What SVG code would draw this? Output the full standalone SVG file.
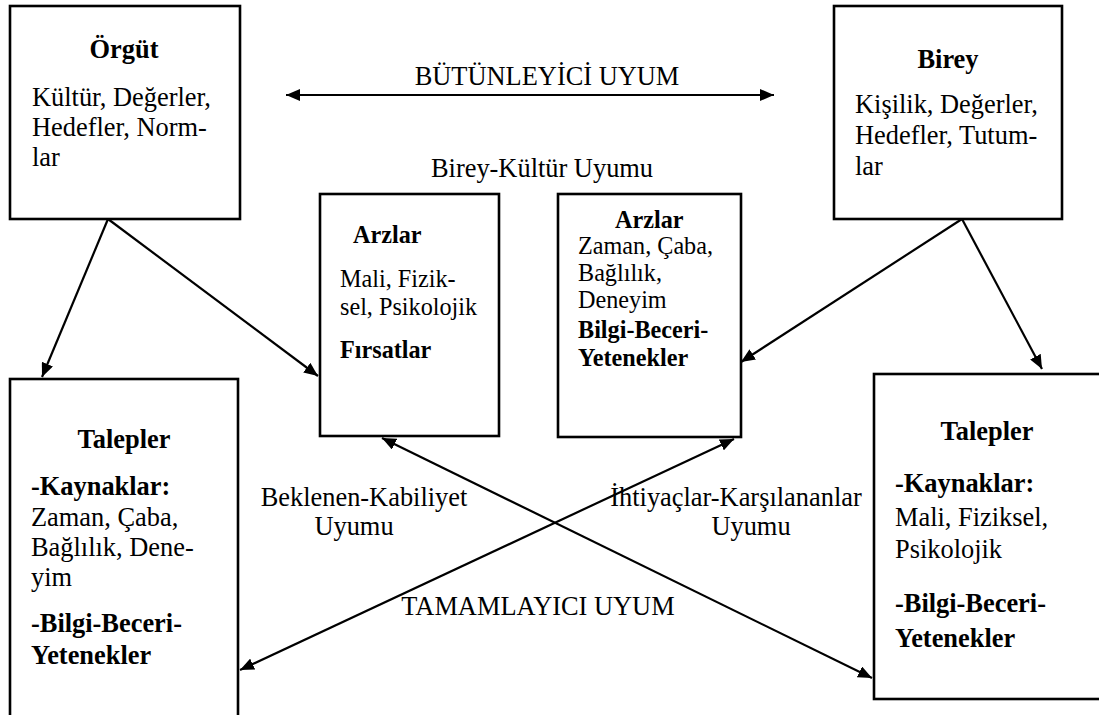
<svg xmlns="http://www.w3.org/2000/svg" width="1099" height="715" viewBox="0 0 1099 715">
<style>
  .t { font-family: 'Liberation Serif', 'DejaVu Serif', serif; font-size: 26.4px; fill: #000; }
  .s { font-family: 'Liberation Serif', 'DejaVu Serif', serif; font-size: 24.2px; fill: #000; }
  .b { font-weight: bold; }
  .box { fill: #fff; stroke: #000; stroke-width: 2.6; }
  .conn { stroke: #000; stroke-width: 2.2; fill: none; }
  .c { text-anchor: middle; }
</style>
<defs>
  <marker id="ah" viewBox="0 0 14 12" refX="14" refY="6" markerWidth="14" markerHeight="12" markerUnits="userSpaceOnUse" orient="auto-start-reverse">
    <path d="M0,0 L14,6 L0,12 z" fill="#000"/>
  </marker>
</defs>
<rect width="1099" height="715" fill="#fff"/>

<g id="connectors">
  <line class="conn" x1="286" y1="95" x2="774" y2="95" marker-start="url(#ah)" marker-end="url(#ah)"/>
  <line class="conn" x1="108" y1="219" x2="42" y2="377" marker-end="url(#ah)"/>
  <line class="conn" x1="108" y1="219" x2="318" y2="376" marker-end="url(#ah)"/>
  <line class="conn" x1="962" y1="219" x2="741" y2="362" marker-end="url(#ah)"/>
  <line class="conn" x1="962" y1="219" x2="1042" y2="369" marker-end="url(#ah)"/>
  <line class="conn" x1="872" y1="678" x2="382" y2="438" marker-start="url(#ah)" marker-end="url(#ah)"/>
  <line class="conn" x1="240" y1="670" x2="734" y2="439" marker-start="url(#ah)" marker-end="url(#ah)"/>
</g>

<g id="labels">
  <text class="t c" x="547" y="85">BÜTÜNLEYİCİ UYUM</text>
  <text class="t c" x="542" y="177">Birey-Kültür Uyumu</text>
  <text class="t c" x="364" y="506">Beklenen-Kabiliyet</text>
  <text class="t c" x="354" y="535">Uyumu</text>
  <text class="t c" x="736" y="506">İhtiyaçlar-Karşılananlar</text>
  <text class="t c" x="751" y="535">Uyumu</text>
  <text class="t c" x="538" y="615">TAMAMLAYICI UYUM</text>
</g>

<g id="orgut">
  <rect class="box" x="10" y="6" width="230" height="213"/>
  <text class="t b c" x="124" y="58">Örgüt</text>
  <text class="t" x="32" y="106">Kültür, Değerler,</text>
  <text class="t" x="32" y="136">Hedefler, Norm-</text>
  <text class="t" x="32" y="166">lar</text>
</g>

<g id="birey">
  <rect class="box" x="834" y="6" width="228" height="213"/>
  <text class="t b c" x="948" y="68">Birey</text>
  <text class="t" x="855" y="113">Kişilik, Değerler,</text>
  <text class="t" x="855" y="144">Hedefler, Tutum-</text>
  <text class="t" x="855" y="175">lar</text>
</g>

<g id="arzlar-orgut">
  <rect class="box" x="320" y="194" width="179" height="242"/>
  <text class="s b" x="353" y="243">Arzlar</text>
  <text class="s" x="340" y="287">Mali, Fizik-</text>
  <text class="s" x="340" y="315">sel, Psikolojik</text>
  <text class="s b" x="340" y="358">Fırsatlar</text>
</g>

<g id="arzlar-birey">
  <rect class="box" x="558" y="194" width="183" height="243"/>
  <text class="s b" x="615" y="228">Arzlar</text>
  <text class="s" x="578" y="254">Zaman, Çaba,</text>
  <text class="s" x="578" y="281">Bağlılık,</text>
  <text class="s" x="578" y="308">Deneyim</text>
  <text class="s b" x="578" y="338">Bilgi-Beceri-</text>
  <text class="s b" x="578" y="366">Yetenekler</text>
</g>

<g id="talepler-orgut">
  <rect class="box" x="10" y="379" width="228" height="345"/>
  <text class="t b c" x="124" y="448">Talepler</text>
  <text class="t b" x="31" y="495">-Kaynaklar:</text>
  <text class="t" x="31" y="526">Zaman, Çaba,</text>
  <text class="t" x="31" y="556">Bağlılık, Dene-</text>
  <text class="t" x="31" y="586">yim</text>
  <text class="t b" x="31" y="632">-Bilgi-Beceri-</text>
  <text class="t b" x="31" y="664">Yetenekler</text>
</g>

<g id="talepler-birey">
  <rect class="box" x="874" y="374" width="240" height="325"/>
  <text class="t b c" x="987" y="440">Talepler</text>
  <text class="t b" x="895" y="492">-Kaynaklar:</text>
  <text class="t" x="895" y="526">Mali, Fiziksel,</text>
  <text class="t" x="895" y="558">Psikolojik</text>
  <text class="t b" x="895" y="612">-Bilgi-Beceri-</text>
  <text class="t b" x="895" y="647">Yetenekler</text>
</g>
</svg>
